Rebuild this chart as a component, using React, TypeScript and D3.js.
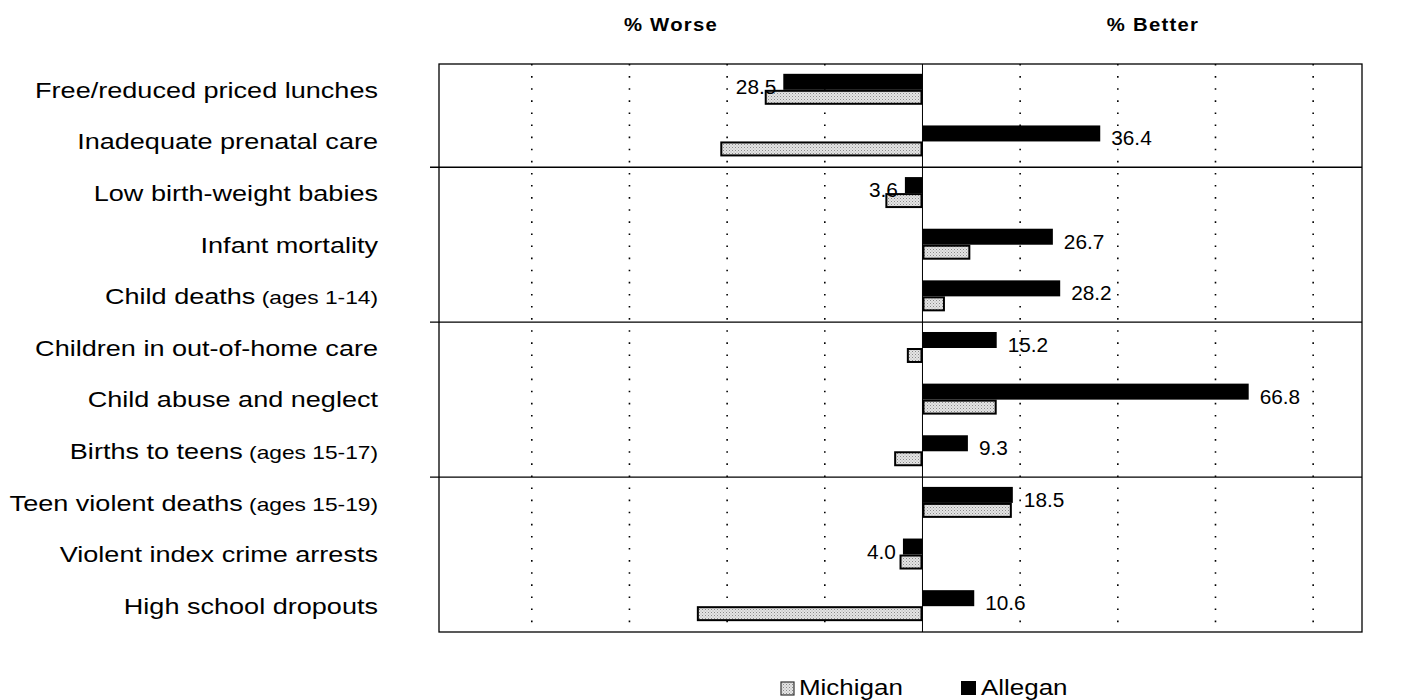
import React from "react";
import * as d3 from "d3";

// Indicators, top to bottom
const categories = [
  "Free/reduced priced lunches",
  "Inadequate prenatal care",
  "Low birth-weight babies",
  "Infant mortality",
  "Child deaths",
  "Children in out-of-home care",
  "Child abuse and neglect",
  "Births to teens",
  "Teen violent deaths",
  "Violent index crime arrests",
  "High school dropouts",
];
const ageNotes = ["", "", "", "", "(ages 1-14)", "", "", "(ages 15-17)", "(ages 15-19)", "", ""];

// Percent change: negative = worse, positive = better
const allegan = [-28.5, 36.4, -3.6, 26.7, 28.2, 15.2, 66.8, 9.3, 18.5, -4.0, 10.6];
const michigan = [-32.3, -41.4, -7.6, 9.8, 4.6, -3.2, 15.2, -5.8, 18.3, -4.7, -46.2];

const gridValues = [-80, -60, -40, -20, 20, 40, 60, 80];
const groupBreaks = [2, 5, 8]; // row index where a new section begins

const W = 1415;
const H = 700;
const plot = { left: 439, right: 1362, top: 64, bottom: 632 };
const FONT = "'Liberation Sans', Arial, Helvetica, sans-serif";
const SX = 1.23;

export default function App() {
  const x = d3.scaleLinear().domain([-99, 90]).range([plot.left, plot.right]);
  const y = d3
    .scaleBand<number>()
    .domain(d3.range(categories.length))
    .range([plot.top, plot.bottom])
    .padding(0);
  const bw = y.bandwidth();
  const aTop = bw * 0.19;
  const aH = bw * 0.31;
  const mTop = aTop + aH;
  const mH = bw * 0.29;
  const x0 = x(0);

  return (
    <svg width={W} height={H} style={{ position: "absolute", left: 0, top: 0, background: "#fff" }}>
      <defs>
        <pattern id="stipple" width="3" height="3" patternUnits="userSpaceOnUse">
          <rect width="3" height="3" fill="#e4e4e4" />
          <rect x="0" y="0" width="1" height="1" fill="#8a8a8a" />
          <rect x="1.5" y="1.5" width="1" height="1" fill="#a8a8a8" />
        </pattern>
      </defs>

      {/* column headings */}
      <text x={671} y={31} textAnchor="middle" fontFamily={FONT} fontWeight="bold" fontSize={17.5}
        letterSpacing={1.1} transform={`translate(671,0) scale(1.16,1) translate(-671,0)`}>
        % Worse
      </text>
      <text x={1153} y={31} textAnchor="middle" fontFamily={FONT} fontWeight="bold" fontSize={17.5}
        letterSpacing={1.1} transform={`translate(1153,0) scale(1.16,1) translate(-1153,0)`}>
        % Better
      </text>

      {/* dotted gridlines */}
      {gridValues.map((v) => (
        <line key={v} x1={x(v)} x2={x(v)} y1={plot.top} y2={plot.bottom}
          stroke="#000" strokeWidth={1.6} strokeDasharray="1.6 10.5" />
      ))}

      {/* frame */}
      <rect x={plot.left} y={plot.top} width={plot.right - plot.left} height={plot.bottom - plot.top}
        fill="none" stroke="#000" strokeWidth={1.3} />
      {groupBreaks.map((i) => (
        <line key={i} x1={plot.left - 9} x2={plot.right} y1={y(i)!} y2={y(i)!}
          stroke="#000" strokeWidth={1.3} />
      ))}
      <line x1={x0} x2={x0} y1={plot.top} y2={plot.bottom} stroke="#000" strokeWidth={1} />

      {/* bars */}
      {categories.map((c, i) => {
        const top = y(i)!;
        const a = allegan[i];
        const m = michigan[i];
        return (
          <g key={c}>
            <rect x={Math.min(x(a), x0)} y={top + aTop} width={Math.abs(x(a) - x0)} height={aH} fill="#000" />
            <rect x={Math.min(x(m), x0) + 1} y={top + mTop + 1} width={Math.max(Math.abs(x(m) - x0) - 2, 0)}
              height={mH - 2} fill="url(#stipple)" stroke="#000" strokeWidth={2} />
          </g>
        );
      })}

      {/* value labels for Allegan */}
      {allegan.map((a, i) => {
        const tx = a >= 0 ? x(a) + 11 : x(a) - 7;
        const ty = y(i)! + aTop + aH + 4;
        return (
          <text key={i} x={tx} y={ty} textAnchor={a >= 0 ? "start" : "end"} fontFamily={FONT} fontSize={20}
            transform={`translate(${tx},0) scale(1.04,1) translate(${-tx},0)`}>
            {Math.abs(a).toFixed(1)}
          </text>
        );
      })}

      {/* category labels */}
      {categories.map((c, i) => {
        const tx = 378;
        const ty = y(i)! + bw / 2 + 7.8;
        return (
          <text key={c} x={tx} y={ty} textAnchor="end" fontFamily={FONT} fontSize={22}
            transform={`translate(${tx},0) scale(${SX},1) translate(${-tx},0)`}>
            {c}
            {ageNotes[i] ? <tspan fontSize={18.5}>{" " + ageNotes[i]}</tspan> : null}
          </text>
        );
      })}

      {/* legend */}
      <rect x={781} y={682} width={13} height={13} fill="url(#stipple)" stroke="#333" strokeWidth={1.2} />
      <text x={799} y={695} fontFamily={FONT} fontSize={22}
        transform={`translate(799,0) scale(1.18,1) translate(-799,0)`}>Michigan</text>
      <rect x={961} y={681} width={15} height={14} fill="#000" />
      <text x={981} y={695} fontFamily={FONT} fontSize={22}
        transform={`translate(981,0) scale(1.18,1) translate(-981,0)`}>Allegan</text>
    </svg>
  );
}
